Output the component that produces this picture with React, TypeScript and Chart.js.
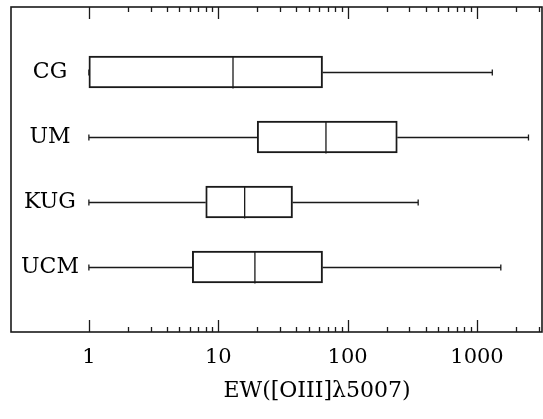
import React, { useEffect, useRef } from "react";
import { Chart, registerables } from "chart.js";

Chart.register(...registerables);

const categories = ["CG", "UM", "KUG", "UCM"];
const whiskerLow = [1, 1, 1, 1];
const q1 = [1, 20, 8, 6.3];
const median = [13, 68, 16, 19.2];
const q3 = [64, 242, 37.5, 64];
const whiskerHigh = [1313, 2500, 351, 1528];

const xMajorTicks = [1, 10, 100, 1000];
const xMin = 0.25;
const xMax = 3180;
const xTitle = "EW([OIII]λ5007)";

const FONT = "'DejaVu Serif', serif";
const INK = "#1a1a1a";

const boxPlugin = {
  id: "boxExtras",
  afterDatasetsDraw(chart: any) {
    const ctx = chart.ctx;
    const xs = chart.scales.x;
    const ys = chart.scales.y;
    const { left, right, top, bottom } = chart.chartArea;
    ctx.save();
    // frame
    ctx.strokeStyle = INK;
    ctx.lineWidth = 1.6;
    ctx.strokeRect(left, top, right - left, bottom - top);
    // log ticks
    ctx.lineWidth = 1.3;
    for (let e = -1; e <= 4; e++) {
      for (let m = 1; m <= 9; m++) {
        const v = m * Math.pow(10, e);
        if (v < 1 || v > xMax) continue;
        const px = Math.round(xs.getPixelForValue(v)) + 0.5;
        const len = m === 1 ? 12 : 5;
        ctx.beginPath();
        ctx.moveTo(px, top);
        ctx.lineTo(px, top + len);
        ctx.moveTo(px, bottom);
        ctx.lineTo(px, bottom - len);
        ctx.stroke();
      }
    }
    // medians & whiskers
    ctx.lineWidth = 1.3;
    const half = 16;
    categories.forEach((c, i) => {
      const yc = Math.round(ys.getPixelForValue(i + 1)) + 0.5;
      const xl = xs.getPixelForValue(whiskerLow[i]);
      const x1 = xs.getPixelForValue(q1[i]);
      const xm = xs.getPixelForValue(median[i]);
      const x3 = xs.getPixelForValue(q3[i]);
      const xh = xs.getPixelForValue(whiskerHigh[i]);
      ctx.beginPath();
      ctx.moveTo(xm, yc - half);
      ctx.lineTo(xm, yc + half);
      if (x1 > xl) {
        ctx.moveTo(xl, yc);
        ctx.lineTo(x1, yc);
      }
      ctx.moveTo(x3, yc);
      ctx.lineTo(xh, yc);
      ctx.moveTo(xl, yc - 3);
      ctx.lineTo(xl, yc + 3);
      ctx.moveTo(xh, yc - 3);
      ctx.lineTo(xh, yc + 3);
      ctx.stroke();
      // category label
      ctx.fillStyle = "#000";
      ctx.font = `22px ${FONT}`;
      ctx.textAlign = "center";
      ctx.textBaseline = "middle";
      ctx.fillText(c, left + 39, yc);
    });
    // axis title
    ctx.fillStyle = "#000";
    ctx.font = `22px ${FONT}`;
    ctx.textAlign = "center";
    ctx.textBaseline = "middle";
    ctx.fillText(xTitle, left + 306, bottom + 59);
    ctx.restore();
  },
};

export default function App() {
  const ref = useRef<HTMLCanvasElement>(null);
  useEffect(() => {
    if (!ref.current) return;
    const labels = ["", ...categories, ""];
    const boxes = [null, ...categories.map((_, i) => [q1[i], q3[i]]), null];
    const chart = new Chart(ref.current, {
      type: "bar",
      data: {
        labels,
        datasets: [
          {
            data: boxes as any,
            backgroundColor: "rgba(0,0,0,0)",
            borderColor: INK,
            borderWidth: 1.3,
            borderSkipped: false,
            barThickness: 32,
          },
        ],
      },
      options: {
        indexAxis: "y",
        responsive: false,
        animation: false,
        layout: { padding: { left: 11, right: 1, top: 7, bottom: 0 } },
        plugins: { legend: { display: false }, tooltip: { enabled: false } },
        scales: {
          x: {
            type: "logarithmic",
            min: xMin,
            max: xMax,
            grid: { display: false, drawTicks: false },
            border: { display: false },
            afterBuildTicks: (s: any) => {
              s.ticks = xMajorTicks.map((v) => ({ value: v, major: true }));
            },
            afterFit: (s: any) => {
              s.height = 87;
            },
            ticks: {
              autoSkip: false,
              maxRotation: 0,
              padding: 13,
              color: "#000",
              font: { family: FONT, size: 21 },
              callback: (v: any) => String(v),
            },
            title: { display: false },
          },
          y: {
            type: "category",
            offset: false,
            grid: { display: false, drawTicks: false },
            border: { display: false },
            ticks: { display: false },
            afterFit: (s: any) => {
              s.width = 0;
            },
          },
        },
      },
      plugins: [boxPlugin],
    });
    return () => chart.destroy();
  }, []);
  return (
    <div style={{ position: "absolute", left: 0, top: 0, width: 543, height: 419, background: "#fff" }}>
      <canvas ref={ref} width={543} height={419} style={{ display: "block" }} />
    </div>
  );
}
